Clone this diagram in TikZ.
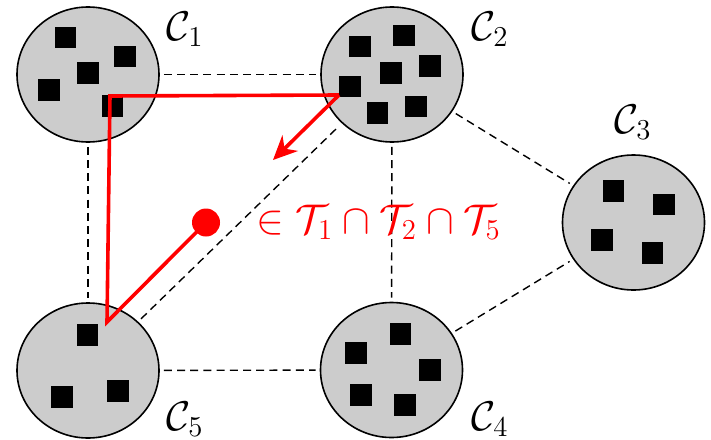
\documentclass[tikz,border=0pt]{standalone}
\usetikzlibrary{shapes.geometric,arrows.meta}
\begin{document}
\begin{tikzpicture}[x=0.5pt,y=-0.5pt,
 cluster/.style={ellipse, draw=black, line width=0.8pt, fill=black!20, minimum width=71pt, minimum height=67.5pt, inner sep=0pt},
 item/.style={rectangle, fill=black, minimum size=10.7pt, inner sep=0pt},
 link/.style={dash pattern=on 4pt off 2.6pt, line width=0.7pt, shorten <=2pt, shorten >=2pt},
 route/.style={draw=red, line width=1.8pt},
 lab/.style={font=\fontsize{22}{26}\selectfont, inner sep=0pt}]
\useasboundingbox (0,0) rectangle (711,439);
% clusters
\node[cluster] (c1) at (88,74.5) {};
\node[cluster] (c2) at (392,74.5) {};
\node[cluster] (c3) at (633.5,222.5) {};
\node[cluster] (c4) at (391.5,370) {};
\node[cluster] (c5) at (88,370.5) {};
% dashed links
\draw[link] (c1) -- (c2);
\draw[link] (c1) -- (c5);
\draw[link] (c2) -- (c4);
\draw[link] (c5) -- (c4);
\draw[link] (c2) -- (c3);
\draw[link] (c4) -- (c3);
\draw[link] (c5) -- (c2);
% items C1
\node[item] (a1) at (65.5,37.5) {};
\node[item] (a2) at (125,56.7) {};
\node[item] (a3) at (88,73) {};
\node[item] (a4) at (49,90) {};
\node[item] (a5) at (112.5,106) {};
% items C2
\node[item] (b1) at (360,46.7) {};
\node[item] (b2) at (404,35.5) {};
\node[item] (b3) at (391,73) {};
\node[item] (b4) at (430,66) {};
\node[item] (b5) at (350,86.7) {};
\node[item] (b6) at (377.5,113) {};
\node[item] (b7) at (416,106.7) {};
% items C3
\node[item] (d1) at (613.5,190.8) {};
\node[item] (d2) at (664,204.7) {};
\node[item] (d3) at (602,240) {};
\node[item] (d4) at (652.5,253) {};
% items C4
\node[item] (e1) at (400.5,334) {};
\node[item] (e2) at (356,353) {};
\node[item] (e3) at (430,370) {};
\node[item] (e4) at (361,395) {};
\node[item] (e5) at (405,405) {};
% items C5
\node[item] (f1) at (87.5,335) {};
\node[item] (f2) at (62,397) {};
\node[item] (f3) at (118,391) {};
% labels
\node[lab] (l1) at (185,29) {$\mathcal{C}_1$};
\node[lab] (l2) at (490,29) {$\mathcal{C}_2$};
\node[lab] (l3) at (633,122) {$\mathcal{C}_3$};
\node[lab] (l4) at (490,419) {$\mathcal{C}_4$};
\node[lab] (l5) at (185,419) {$\mathcal{C}_5$};
% red route
\coordinate (p2) at (339,95);
\coordinate (p1) at (110,96);
\coordinate (p5) at (107,322);
\node[circle, fill=red, minimum size=14pt, inner sep=0pt] (dot) at (206,222.5) {};
\coordinate (tip) at (273,160);
\draw[route, line join=miter] (p2) -- (p1) -- (p5) -- (dot.center);
\draw[route, -{Stealth[length=12pt,width=11pt]}] (p2) -- (tip);
\node[lab, text=red, anchor=west] (txt) at (256,222) {$\in \mathcal{T}_1 \cap \mathcal{T}_2 \cap \mathcal{T}_5$};
\end{tikzpicture}
\end{document}
